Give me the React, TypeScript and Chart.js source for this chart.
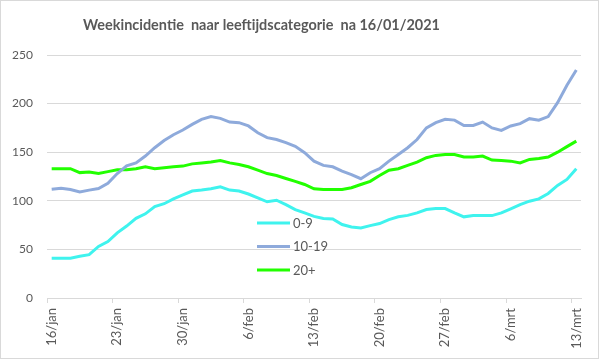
import { useEffect, useRef } from 'react';
import { Chart, registerables } from 'chart.js';

Chart.register(...registerables);

const chartTitle = 'Weekincidentie  naar leeftijdscategorie  na 16/01/2021';

const categories = [
  '16/jan', '17/jan', '18/jan', '19/jan', '20/jan', '21/jan', '22/jan',
  '23/jan', '24/jan', '25/jan', '26/jan', '27/jan', '28/jan', '29/jan',
  '30/jan', '31/jan', '1/feb', '2/feb', '3/feb', '4/feb', '5/feb',
  '6/feb', '7/feb', '8/feb', '9/feb', '10/feb', '11/feb', '12/feb',
  '13/feb', '14/feb', '15/feb', '16/feb', '17/feb', '18/feb', '19/feb',
  '20/feb', '21/feb', '22/feb', '23/feb', '24/feb', '25/feb', '26/feb',
  '27/feb', '28/feb', '1/mrt', '2/mrt', '3/mrt', '4/mrt', '5/mrt',
  '6/mrt', '7/mrt', '8/mrt', '9/mrt', '10/mrt', '11/mrt', '12/mrt',
  '13/mrt',
];

const seriesNames = ['0-9', '10-19', '20+'];

const age0to9 = [
  41, 41, 41, 43, 44.6, 53, 58, 67, 74, 82, 86.6, 94, 97, 102, 106,
  110, 111, 112.4, 114.4, 111, 110, 107, 103, 99, 100.6, 96, 91, 87.6,
  84, 81.8, 81.4, 75.6, 73, 72, 74.5, 76.6, 80.7, 83.5, 85, 87.6, 91,
  92, 92, 87.6, 83.5, 84.8, 84.8, 84.8, 87.6, 91.7, 96, 99.6, 102,
  107.5, 115.8, 122, 133,
];

const age10to19 = [
  112, 113, 111.6, 109, 111, 112.7, 118, 128, 136, 139, 146, 154.6, 162,
  168, 172.8, 178.6, 183.8, 186.6, 184.8, 181, 180.4, 177, 170, 165, 163,
  159.8, 156, 149.5, 140.8, 136.4, 135, 130.5, 127, 122.7, 128.9, 133,
  140.8, 147.7, 154.6, 163, 175, 180.4, 183.8, 183, 177.5, 177.5, 181,
  175, 172.5, 177, 179.4, 184.5, 183, 186.6, 201, 218.8, 234.6,
];

const age20plus = [
  133, 133, 133, 129, 129.5, 128, 130, 132, 132, 133, 135, 133, 134, 135,
  135.7, 138, 139, 140, 141.5, 139, 137.4, 135, 131.5, 128, 126, 123, 120,
  116.8, 112.4, 111.6, 111.6, 111.6, 113.4, 116.8, 120, 126, 131.5, 133,
  136.4, 139.8, 144.3, 146.7, 147.7, 147.7, 145, 145, 146, 141.9, 141.5,
  140.8, 139, 142.6, 143.6, 145, 150, 155.7, 161.4,
];

const yTicks = [0, 50, 100, 150, 200, 250];
const tickEvery = 7;

export default function App() {
  const ref = useRef<HTMLCanvasElement>(null);

  useEffect(() => {
    if (!ref.current) return;
    const colors = ['#3ff3ee', '#8eaadb', '#22ff00'];
    const textColor = '#595959';
    const gridColor = '#d9d9d9';

    const titlePlugin = {
      id: 'customTitle',
      afterDraw(chart: any) {
        const ctx = chart.ctx;
        ctx.save();
        ctx.font = 'bold 15px Lato';
        ctx.fillStyle = textColor;
        ctx.textAlign = 'center';
        ctx.textBaseline = 'alphabetic';
        ctx.fillText(chartTitle, 260.5, 28.5, 357);
        ctx.restore();
      },
    };

    const legendPlugin = {
      id: 'customLegend',
      afterDraw(chart: any) {
        const ctx = chart.ctx;
        ctx.save();
        ctx.font = '13px Lato';
        ctx.textAlign = 'left';
        ctx.textBaseline = 'middle';
        chart.data.datasets.forEach((ds: any, i: number) => {
          const y = 222 + i * 23.5;
          ctx.strokeStyle = ds.borderColor;
          ctx.lineWidth = 3;
          ctx.beginPath();
          ctx.moveTo(256, y);
          ctx.lineTo(289, y);
          ctx.stroke();
          ctx.fillStyle = textColor;
          ctx.fillText(ds.label, 292, y + 0.5);
        });
        ctx.restore();
      },
    };

    const seriesData = [age0to9, age10to19, age20plus];

    const chart = new Chart(ref.current, {
      type: 'line',
      data: {
        labels: categories,
        datasets: seriesNames.map((name, i) => ({
          label: name,
          data: seriesData[i],
          borderColor: colors[i],
          backgroundColor: colors[i],
          borderWidth: 3,
          pointRadius: 0,
          tension: 0,
          fill: false,
        })),
      },
      options: {
        responsive: false,
        animation: false,
        devicePixelRatio: 1,
        layout: { padding: { top: 54, right: 17, left: 0, bottom: 0 } },
        plugins: {
          legend: { display: false },
          title: { display: false },
          tooltip: { enabled: false },
        },
        scales: {
          x: {
            type: 'category',
            offset: true,
            grid: {
              offset: true,
              drawOnChartArea: false,
              drawTicks: true,
              tickLength: 5,
              tickColor: (c: any) =>
                typeof c.index === 'number' && c.index % tickEvery === 0 ? gridColor : 'rgba(0,0,0,0)',
            },
            border: { display: true, color: gridColor, width: 1 },
            ticks: {
              autoSkip: false,
              minRotation: 90,
              maxRotation: 90,
              padding: 5,
              color: textColor,
              font: { family: 'Lato', size: 13 },
              callback: (_v: any, idx: number) => (idx % tickEvery === 0 ? categories[idx] : ''),
            },
            afterFit: (scale: any) => {
              scale.height = 60;
            },
          },
          y: {
            min: yTicks[0],
            max: yTicks[yTicks.length - 1],
            grid: { color: gridColor, lineWidth: 1, drawTicks: false },
            border: { display: false },
            ticks: {
              stepSize: yTicks[1] - yTicks[0],
              padding: 14,
              color: textColor,
              font: { family: 'Lato', size: 12 },
            },
            afterFit: (scale: any) => {
              scale.width = 46;
            },
          },
        },
      },
      plugins: [titlePlugin, legendPlugin],
    });

    return () => chart.destroy();
  }, []);

  return (
    <div
      style={{
        position: 'fixed',
        left: 0,
        top: 0,
        width: 599,
        height: 359,
        boxSizing: 'border-box',
        border: '1px solid #d9d9d9',
        background: '#ffffff',
      }}
    >
      <canvas ref={ref} width={597} height={357} style={{ display: 'block' }} />
    </div>
  );
}
